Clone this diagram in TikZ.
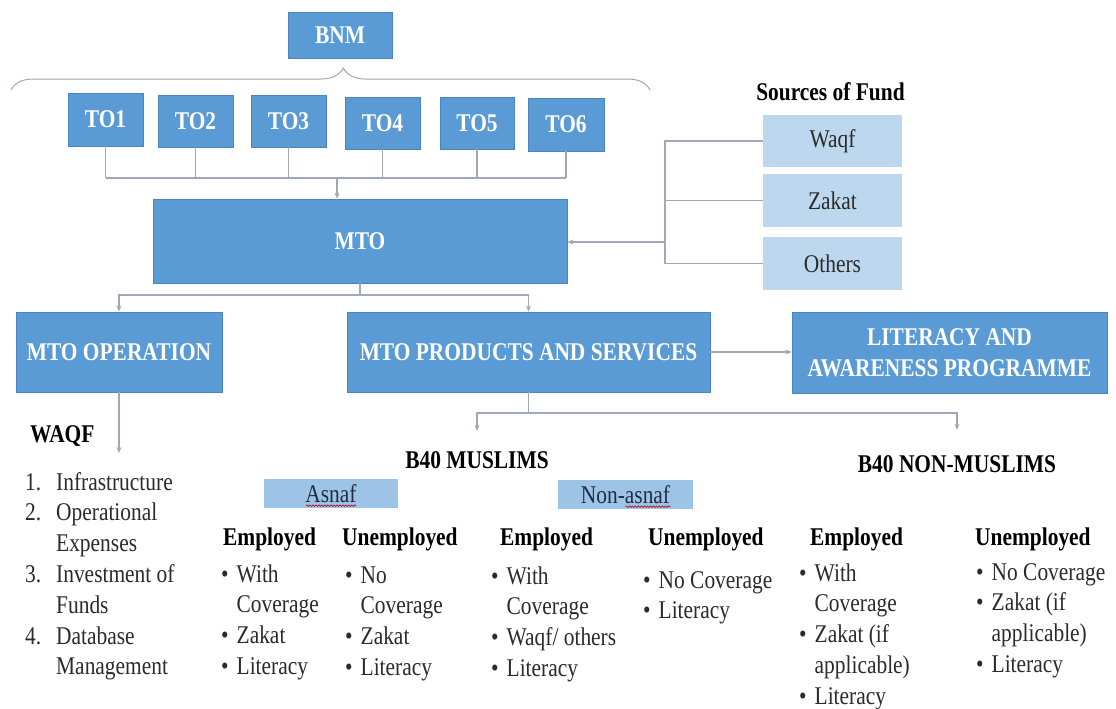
\documentclass[tikz,border=0pt]{standalone}
\usepackage{fontspec}
\setmainfont{Liberation Serif}[FakeStretch=0.84]
\usetikzlibrary{arrows.meta,decorations.pathreplacing,decorations.pathmorphing}

\definecolor{boxblue}{HTML}{5B9BD5}
\definecolor{boxedge}{HTML}{4A85BF}
\definecolor{paleblue}{HTML}{BDD7EE}
\definecolor{midblue}{HTML}{9DC3E6}
\definecolor{wirecol}{HTML}{9EA8B8}
\definecolor{ink}{HTML}{2B2B2B}
\definecolor{tagink}{HTML}{1F2D45}

\newcommand\blt{\makebox[15.5pt][l]{•}}
\newcommand\wqnum[1]{\makebox[31pt][l]{#1}}

\tikzset{
  darkbox/.style={draw=boxedge, line width=0.8pt, fill=boxblue, text=white,
    font=\bfseries\fontsize{25.5}{31}\selectfont, inner sep=0pt, align=center},
  palebox/.style={fill=paleblue, text=ink, font=\fontsize{25.5}{31}\selectfont, inner sep=0pt},
  tagbox/.style={fill=midblue, text=tagink, font=\fontsize{25.5}{31}\selectfont, inner sep=0pt},
  wire/.style={draw=wirecol, line width=1.1pt},
  arrow/.style={wire, -{Stealth[length=6pt,width=5pt]}},
  heading/.style={font=\bfseries\fontsize{25.5}{31}\selectfont, text=black, inner sep=0pt},
  body/.style={font=\fontsize{25.5}{30.8}\selectfont, text=ink, inner sep=0pt, anchor=base west},
  squig/.style={draw=red!75!black, line width=0.6pt, decorate,
    decoration={snake, amplitude=0.8pt, segment length=3pt}},
}

\begin{document}
\begin{tikzpicture}[x=1pt, y=-1pt]
\fill[white] (0,0) rectangle (1116,709);
\useasboundingbox (0,0) rectangle (1116,709);

% --- top level: BNM and the brace over the six TOs
\node[darkbox, minimum width=104pt, minimum height=46pt] (bnm) at (340,35) {BNM};
\draw[wire, line width=1pt, decorate, decoration={brace, amplitude=22pt, aspect=0.52}]
  (11,90) -- (650,90);

\node[darkbox, minimum width=75pt, minimum height=53pt] (to1) at (105.5,119.5) {TO1};
\node[darkbox, minimum width=75pt, minimum height=52pt] (to2) at (195.5,121) {TO2};
\node[darkbox, minimum width=75pt, minimum height=52pt] (to3) at (288.5,121) {TO3};
\node[darkbox, minimum width=75pt, minimum height=52pt] (to4) at (382.5,123) {TO4};
\node[darkbox, minimum width=74pt, minimum height=52pt] (to5) at (477,123) {TO5};
\node[darkbox, minimum width=76pt, minimum height=53pt] (to6) at (566,124.5) {TO6};

\node[darkbox, minimum width=414pt, minimum height=84pt] (mto) at (360,241) {MTO};

% --- sources of fund
\node[heading, anchor=base] (srchead) at (830.5,100) {Sources of Fund};
\node[palebox, minimum width=139pt, minimum height=52pt] (waqf) at (832.5,141) {Waqf};
\node[palebox, minimum width=139pt, minimum height=53pt] (zakat) at (832.5,200.5) {Zakat};
\node[palebox, minimum width=139pt, minimum height=53pt] (others) at (832.5,263.5) {Others};

% --- second level
\node[darkbox, minimum width=206pt, minimum height=80pt] (ops) at (119,352) {MTO OPERATION};
\node[darkbox, minimum width=363pt, minimum height=80pt] (prod) at (528.5,352) {MTO PRODUCTS AND SERVICES};
\node[darkbox, minimum width=315pt, minimum height=81pt] (lit) at (949.5,353)
  {LITERACY AND\\AWARENESS PROGRAMME};

% --- connectors, top part
\coordinate (tobus) at (337,178);
\foreach \t in {to1,to2,to3,to4,to5,to6}
  \draw[wire] (\t.south) -- (\t.south |- tobus);
\draw[wire] (to1.south |- tobus) -- (to6.south |- tobus);
\draw[arrow] (tobus) -- (tobus |- mto.north);

\coordinate (srcbus) at (665,242);
\draw[wire] (waqf.west) -| (srcbus |- others.west) -- (others.west);
\draw[wire] (zakat.west) -- (zakat.west -| srcbus);
\draw[arrow] (srcbus) -- (srcbus -| mto.east);

\coordinate (split1) at (360,295);
\draw[wire] (mto.south) -- (split1);
\draw[arrow] (split1) -| (ops.north);
\draw[arrow] (split1) -| (prod.north);
\draw[arrow] (prod.east) -- (lit.west |- prod.east);

% --- WAQF uses
\coordinate (waqfend) at (119,453);
\draw[arrow] (ops.south) -- (waqfend);
\node[heading, anchor=base west] (waqfhead) at (30,442) {WAQF};
\node[body] (waqflist) at (25,490) {\begin{tabular}[t]{@{}l@{}l@{}}
  \wqnum{1.}&Infrastructure\\ \wqnum{2.}&Operational\\ &Expenses\\
  \wqnum{3.}&Investment of\\ &Funds\\ \wqnum{4.}&Database\\ &Management\end{tabular}};

% --- target groups
\node[heading, anchor=base] (b40m) at (477,468) {B40 MUSLIMS};
\node[heading, anchor=base] (b40n) at (957,472) {B40 NON-MUSLIMS};
\coordinate (split2) at (528.5,413);
\draw[wire] (prod.south) -- (split2);
\draw[arrow, shorten >=20pt] (split2) -| (b40m.north);
\draw[arrow, shorten >=25pt] (split2) -| (b40n.north);

\node[tagbox, minimum width=134pt, minimum height=29pt] (asnaf) at (331,493.5) {Asnaf};
\node[tagbox, minimum width=135pt, minimum height=29pt] (nonasnaf) at (625.5,494.5) {Non-asnaf};
\draw[squig] ([xshift=-25pt,yshift=2.5pt]asnaf.south) -- ([xshift=25pt,yshift=2.5pt]asnaf.south);
\draw[squig] ([xshift=0pt,yshift=2.5pt]nonasnaf.south) -- ([xshift=45pt,yshift=2.5pt]nonasnaf.south);

% --- column headings
\node[heading, anchor=base west] (h1) at (223,545) {Employed};
\node[heading, anchor=base west] (h2) at (342,545) {Unemployed};
\node[heading, anchor=base west] (h3) at (500,545) {Employed};
\node[heading, anchor=base west] (h4) at (648,545) {Unemployed};
\node[heading, anchor=base west] (h5) at (810,545) {Employed};
\node[heading, anchor=base west] (h6) at (975,545) {Unemployed};

% --- column contents
\node[body] (c1) at (221,582) {\begin{tabular}[t]{@{}l@{}l@{}}
  \blt&With\\ &Coverage\\ \blt&Zakat\\ \blt&Literacy\end{tabular}};
\node[body] (c2) at (345,583) {\begin{tabular}[t]{@{}l@{}l@{}}
  \blt&No\\ &Coverage\\ \blt&Zakat\\ \blt&Literacy\end{tabular}};
\node[body] (c3) at (491,584) {\begin{tabular}[t]{@{}l@{}l@{}}
  \blt&With\\ &Coverage\\ \blt&Waqf/ others\\ \blt&Literacy\end{tabular}};
\node[body] (c4) at (643,588) {\begin{tabular}[t]{@{}l@{}l@{}}
  \blt&No Coverage\\ \blt&Literacy\end{tabular}};
\node[body] (c5) at (799,581) {\begin{tabular}[t]{@{}l@{}l@{}}
  \blt&With\\ &Coverage\\ \blt&Zakat (if\\ &applicable)\\ \blt&Literacy\end{tabular}};
\node[body] (c6) at (976,580) {\begin{tabular}[t]{@{}l@{}l@{}}
  \blt&No Coverage\\ \blt&Zakat (if\\ &applicable)\\ \blt&Literacy\end{tabular}};
\end{tikzpicture}
\end{document}
